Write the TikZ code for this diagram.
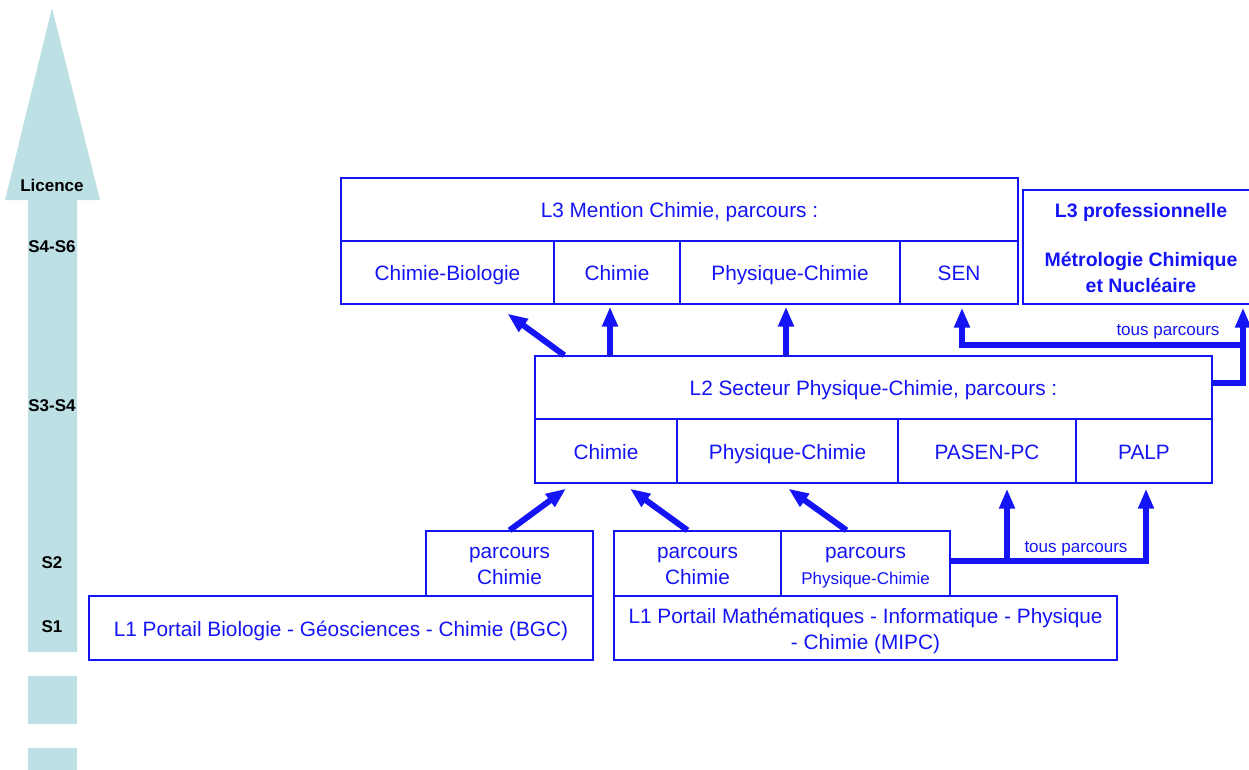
\documentclass[tikz,border=0pt]{standalone}
\usepackage{fontspec}
\setmainfont{Liberation Sans}
\usetikzlibrary{arrows.meta,calc}
\definecolor{cursusblue}{RGB}{20,20,245}
\definecolor{cursuslight}{RGB}{188,224,228}
\tikzset{
  cursus cell/.style={
    draw=cursusblue,
    line width=1.4pt,
    text=cursusblue,
    inner sep=2pt,
    font=\fontsize{20.8}{26}\selectfont
  },
  cursus bold/.style={font=\fontsize{19.5}{26}\selectfont\bfseries},
  cursus flow/.style={
    draw=cursusblue,
    line width=6pt,
    -{Triangle[length=20pt,width=15pt]}
  },
  cursus tag/.style={
    text=cursusblue,
    inner sep=1pt,
    font=\fontsize{17}{20}\selectfont
  },
  cursus semester/.style={
    inner sep=1pt,
    font=\fontsize{17}{20}\selectfont\bfseries
  }
}
\newcommand{\cursusCell}[7][]{%
  \node[cursus cell,minimum width=#5pt,minimum height=#6pt,#1] (#2) at (#3,#4)
    {\raisebox{-3pt}[\height][\depth]{\begin{tabular}{@{}c@{}}#7\end{tabular}}};%
}

\begin{document}
\begin{tikzpicture}[x=1pt,y=-1pt]
  \useasboundingbox (0,0) rectangle (1249,769);

  \fill[cursuslight] (28,652) -- (28,200) -- (5,200) -- (52,8) -- (100,200)
    -- (77,200) -- (77,652) -- cycle;
  \fill[cursuslight] (28,676) rectangle (77,724);
  \fill[cursuslight] (28,748) rectangle (77,775);

  \node[cursus semester] (licence) at (52,185) {Licence};
  \node[cursus semester] (sLthree) at (52,247) {S4-S6};
  \node[cursus semester] (sLtwo) at (52,406) {S3-S4};
  \node[cursus semester] (sTwo) at (52,563) {S2};
  \node[cursus semester] (sOne) at (52,627) {S1};

  \cursusCell{l3title}{679.5}{209.5}{677}{63}{L3 Mention Chimie, parcours :}
  \cursusCell{l3cb}{447.5}{272.5}{213}{63}{Chimie-Biologie}
  \cursusCell{l3ch}{617}{272.5}{126}{63}{Chimie}
  \cursusCell{l3pc}{790}{272.5}{220}{63}{Physique-Chimie}
  \cursusCell{l3sen}{959}{272.5}{118}{63}{SEN}
  \cursusCell[cursus bold]{l3pro}{1141}{247}{236}{114}{L3 professionnelle\\[23pt]Métrologie Chimique\\et Nucléaire}

  \cursusCell{l2title}{873.5}{387.5}{677}{63}{L2 Secteur Physique-Chimie, parcours :}
  \cursusCell{l2ch}{606}{451}{142}{64}{Chimie}
  \cursusCell{l2pc}{787.5}{451}{221}{64}{Physique-Chimie}
  \cursusCell{l2pasen}{987}{451}{178}{64}{PASEN-PC}
  \cursusCell{l2palp}{1144}{451}{136}{64}{PALP}

  \cursusCell{l1bgc}{341}{628}{504}{64}{L1 Portail Biologie - Géosciences - Chimie (BGC)}
  \cursusCell{pcbgc}{509.5}{563.5}{167}{65}{parcours\\Chimie}
  \cursusCell{l1mipc}{865.5}{628}{503}{64}{L1 Portail Mathématiques - Informatique - Physique\\- Chimie (MIPC)}
  \cursusCell{pcmipcch}{697.5}{563.5}{167}{65}{parcours\\Chimie}
  \cursusCell{pcmipcpc}{865.5}{563.5}{169}{65}{parcours\\{\fontsize{17}{20}\selectfont Physique-Chimie}}

  \draw[cursus flow] (pcbgc.north) -- ($(l2ch.south)+(-40,5)$);
  \draw[cursus flow] ($(pcmipcch.north)+(-10,0)$) -- ($(l2ch.south)+(24,5)$);
  \draw[cursus flow] ($(pcmipcpc.north)+(-19,0)$) -- ($(l2pc.south)+(1,5)$);
  \draw[cursus flow] ($(pcmipcpc.east)+(0,-2.5)$) -| ($(l2palp.south)+(2,5)$);
  \draw[cursus flow] ($(l2pasen.south)+(20,78)$) -- ($(l2pasen.south)+(20,5)$);

  \draw[cursus flow] ($(l2title.north west)+(30,0)$) -- ($(l3cb.south)+(60,9)$);
  \draw[cursus flow] ($(l3ch.south |- l2title.north)+(-7,0)$) -- ($(l3ch.south)+(-7,2)$);
  \draw[cursus flow] ($(l3pc.south |- l2title.north)+(-4,0)$) -- ($(l3pc.south)+(-4,2)$);
  \draw[cursus flow] ($(l2title.east)+(0,-5)$) -| ($(l3pro.south)+(102,3)$);
  \draw[cursus flow] ($(l2title.east)+(31,-42.5)$) -| ($(l3sen.south)+(3,3)$);

  \node[cursus tag] (tousLthree) at (1168,332) {tous parcours};
  \node[cursus tag] (tousLtwo) at (1076,549) {tous parcours};
\end{tikzpicture}
\end{document}
